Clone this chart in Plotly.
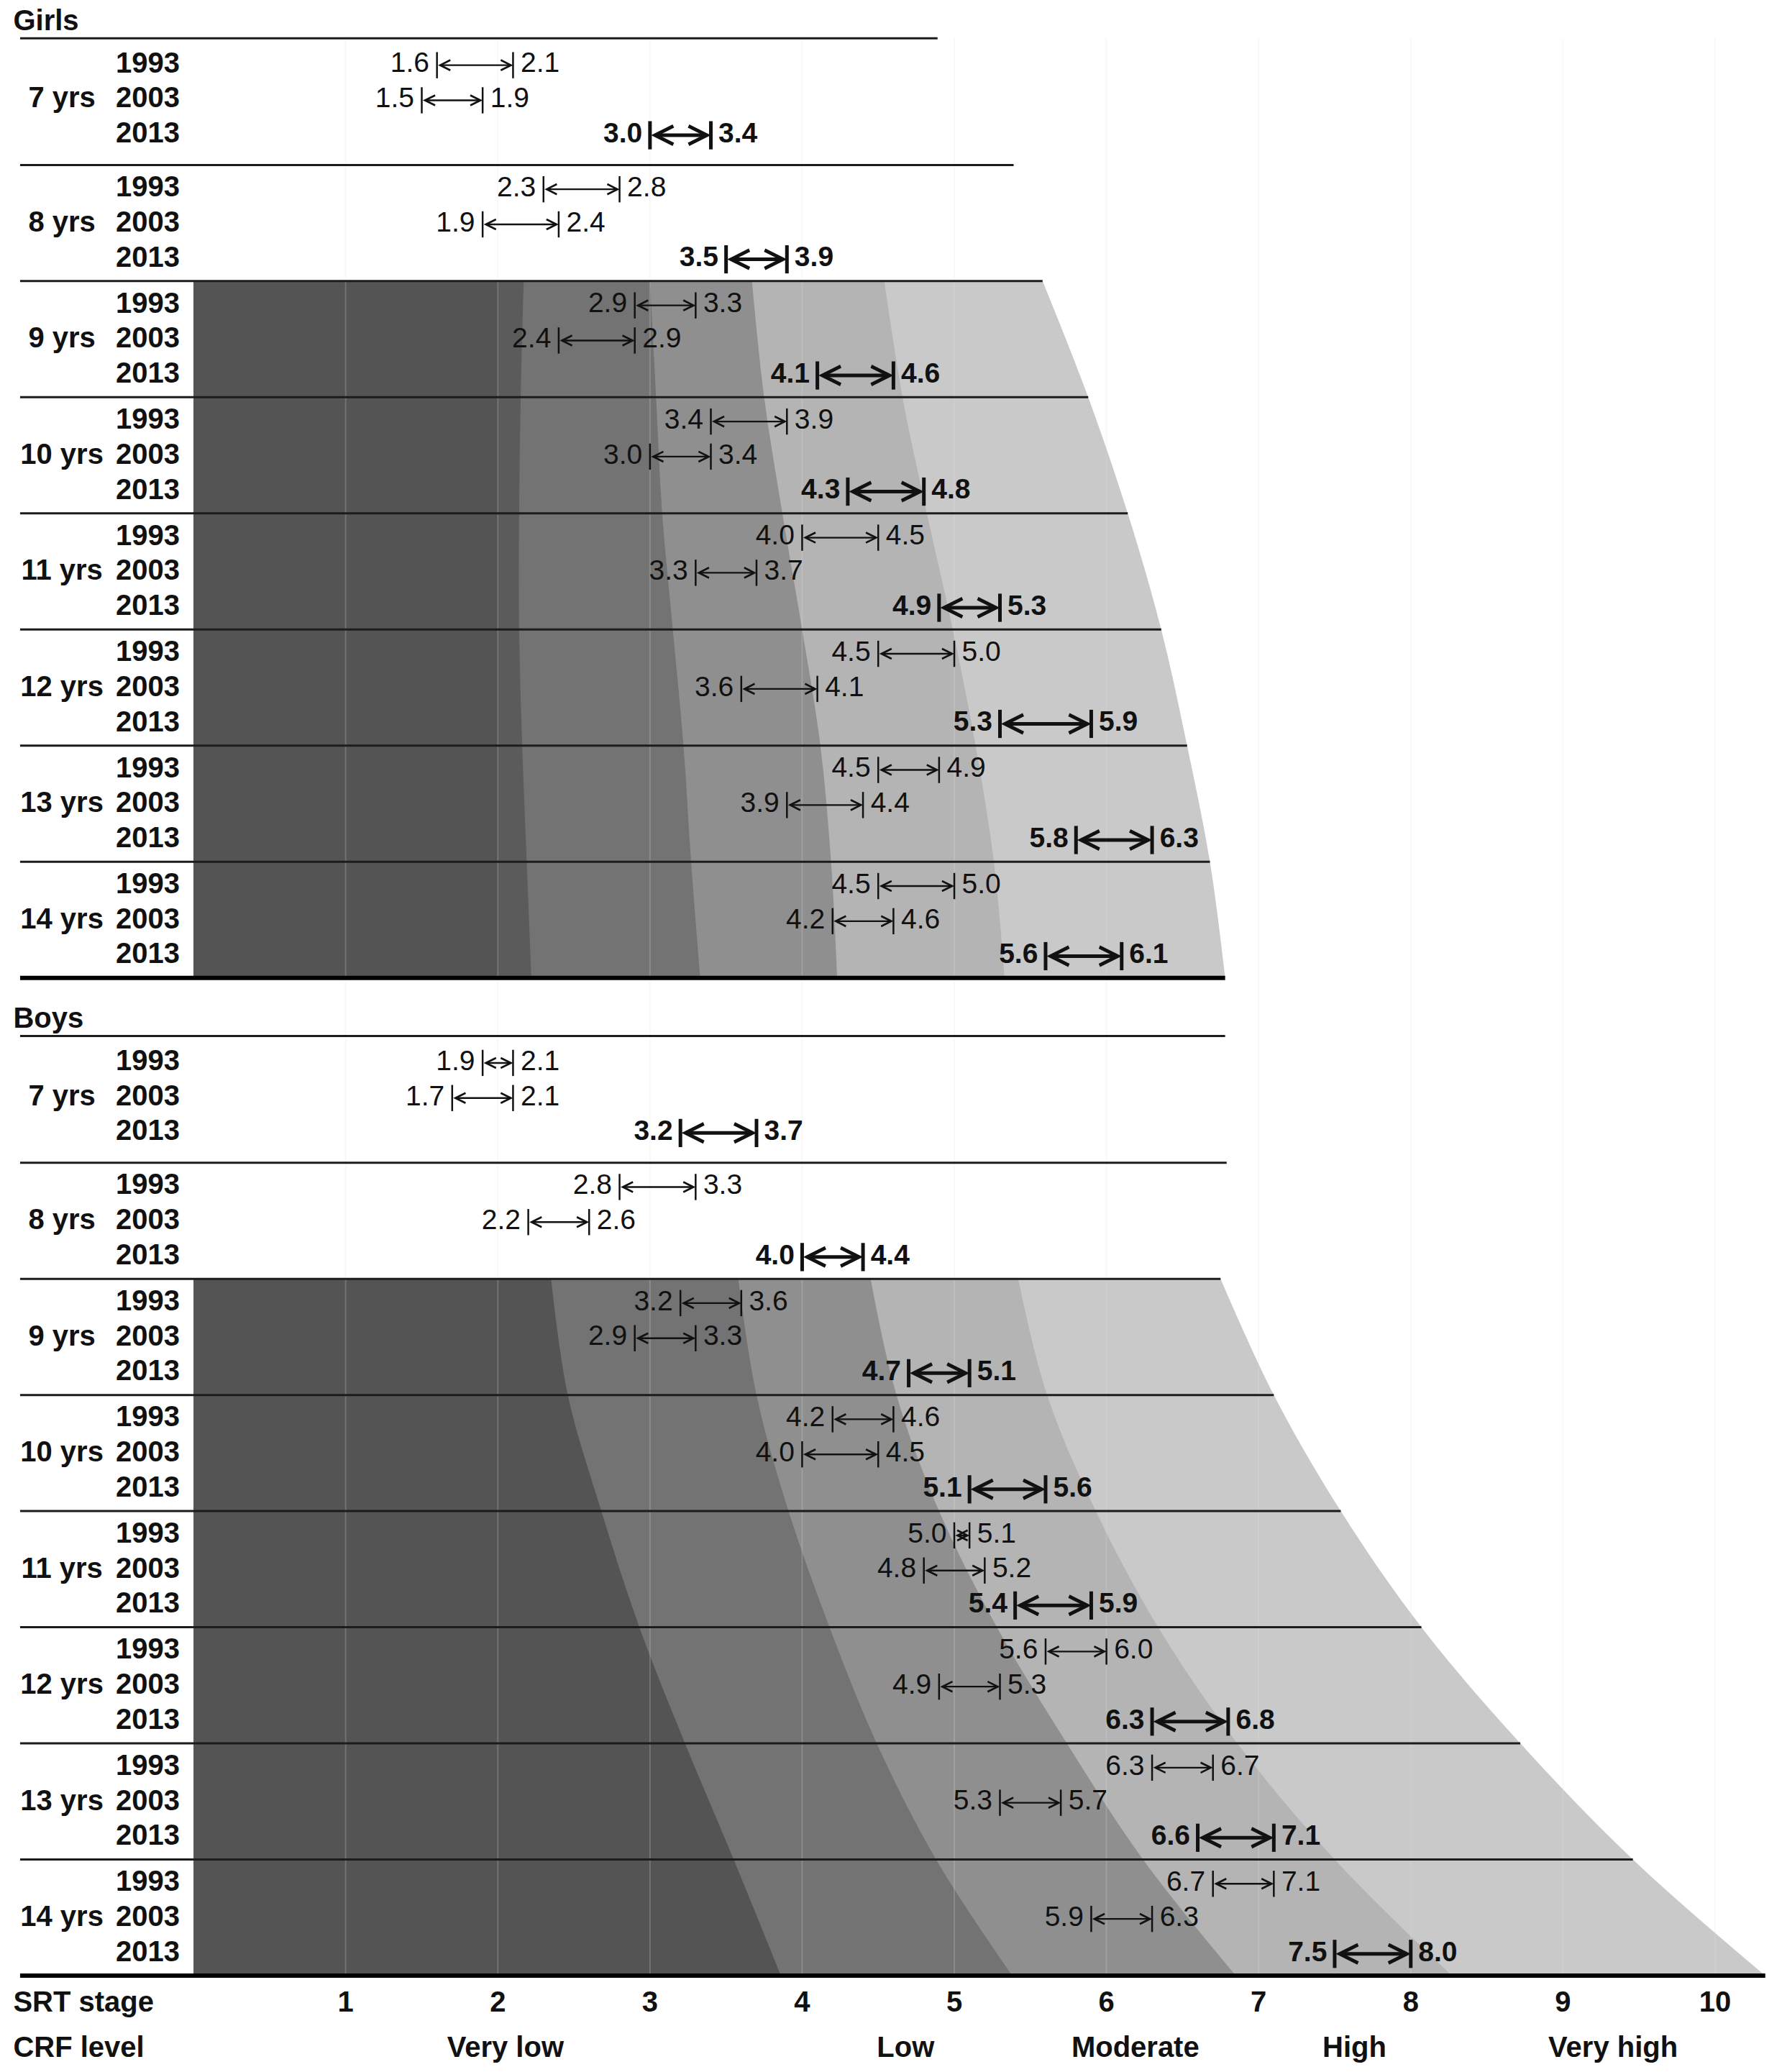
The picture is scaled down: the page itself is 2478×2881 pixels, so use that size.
import plotly.graph_objects as go

# ---------------- data (SRT stage) ----------------
ages = ["7 yrs", "8 yrs", "9 yrs", "10 yrs", "11 yrs", "12 yrs", "13 yrs", "14 yrs"]
years = ["1993", "2003", "2013"]

girls_low_1993 = [1.6, 2.3, 2.9, 3.4, 4.0, 4.5, 4.5, 4.5]
girls_high_1993 = [2.1, 2.8, 3.3, 3.9, 4.5, 5.0, 4.9, 5.0]
girls_low_2003 = [1.5, 1.9, 2.4, 3.0, 3.3, 3.6, 3.9, 4.2]
girls_high_2003 = [1.9, 2.4, 2.9, 3.4, 3.7, 4.1, 4.4, 4.6]
girls_low_2013 = [3.0, 3.5, 4.1, 4.3, 4.9, 5.3, 5.8, 5.6]
girls_high_2013 = [3.4, 3.9, 4.6, 4.8, 5.3, 5.9, 6.3, 6.1]

boys_low_1993 = [1.9, 2.8, 3.2, 4.2, 5.0, 5.6, 6.3, 6.7]
boys_high_1993 = [2.1, 3.3, 3.6, 4.6, 5.1, 6.0, 6.7, 7.1]
boys_low_2003 = [1.7, 2.2, 2.9, 4.0, 4.8, 4.9, 5.3, 5.9]
boys_high_2003 = [2.1, 2.6, 3.3, 4.5, 5.2, 5.3, 5.7, 6.3]
boys_low_2013 = [3.2, 4.0, 4.7, 5.1, 5.4, 6.3, 6.6, 7.5]
boys_high_2013 = [3.7, 4.4, 5.1, 5.6, 5.9, 6.8, 7.1, 8.0]

# upper SRT stage of each CRF level, at the rules bounding 9 yrs .. 14 yrs
crf_levels = ["Very low", "Low", "Moderate", "High", "Very high"]
girls_vlow_core = [2.00, 2.00, 2.00, 2.00, 2.00, 2.00, 2.00]
girls_vlow_upper = [2.17, 2.15, 2.14, 2.14, 2.16, 2.19, 2.22]
girls_low_upper = [3.00, 3.04, 3.08, 3.15, 3.22, 3.27, 3.33]
girls_mod_upper = [3.67, 3.75, 3.87, 4.00, 4.12, 4.19, 4.23]
girls_high_upper = [4.54, 4.66, 4.82, 4.99, 5.14, 5.26, 5.33]
girls_vhigh_upper = [5.58, 5.88, 6.14, 6.36, 6.53, 6.68, 6.78]

boys_vlow_upper = [2.35, 2.46, 2.68, 2.93, 3.23, 3.55, 3.86]
boys_low_upper = [3.58, 3.70, 3.91, 4.18, 4.49, 4.88, 5.38]
boys_mod_upper = [4.45, 4.62, 4.90, 5.28, 5.74, 6.24, 6.85]
boys_high_upper = [5.42, 5.61, 5.93, 6.34, 6.86, 7.50, 8.27]
boys_vhigh_upper = [6.75, 7.10, 7.54, 8.07, 8.72, 9.46, 10.33]

srt_stages = [1, 2, 3, 4, 5, 6, 7, 8, 9, 10]
crf_label_x = [2.05, 4.68, 6.19, 7.63, 9.33]

# ---------------- layout (y in reference pixel rows, downward) ----------------
FIG_W, FIG_H = 2478, 2881
Y_BOTTOM = 1570
X_RANGE = [-1.272, 10.44]
BLOCK_TOP = {"Girls": 29, "Boys": 785}
FIRST_PAD = 8
GROUP_H = 88
ROW_OFF = [18.4, 45, 71.5]
RULE_X0 = -1.14
HEAD_X = -1.185
SHADE_FROM = 2          # shading starts at the 9 yrs group
TOP_RULE_END = {"Girls": [4.89, 5.39], "Boys": [6.78, 6.79]}
FONT = "Liberation Sans, Arial, sans-serif"
INK = "#111111"
BAND_COLORS = ["#5b5b5b", "#737373", "#8f8f8f", "#b4b4b4", "#c9c9c9"]
CORE_COLOR = "#545454"
GAP = 0.05

blocks = {
    "Girls": {
        "low": [girls_low_1993, girls_low_2003, girls_low_2013],
        "high": [girls_high_1993, girls_high_2003, girls_high_2013],
        "upper": [girls_vlow_upper, girls_low_upper, girls_mod_upper,
                  girls_high_upper, girls_vhigh_upper],
        "core": girls_vlow_core,
    },
    "Boys": {
        "low": [boys_low_1993, boys_low_2003, boys_low_2013],
        "high": [boys_high_1993, boys_high_2003, boys_high_2013],
        "upper": [boys_vlow_upper, boys_low_upper, boys_mod_upper,
                  boys_high_upper, boys_vhigh_upper],
        "core": None,
    },
}


def group_top(block, g):
    return BLOCK_TOP[block] + (FIRST_PAD if g else 0) + g * GROUP_H


def row_y(block, g, r):
    return group_top(block, g) + ROW_OFF[r] + (2 if g == 0 else 0)


fig = go.Figure()

# shaded CRF bands, lightest (widest) first, each filled back to stage 0
for block, d in blocks.items():
    ys = [group_top(block, g) for g in range(SHADE_FROM, len(ages) + 1)]
    colors = list(BAND_COLORS)
    if d["core"] is None:
        colors[0] = CORE_COLOR
    layers = list(zip(d["upper"], colors))
    if d["core"] is not None:
        layers = [(d["core"], CORE_COLOR)] + layers
    for upper, color in reversed(layers):
        fig.add_trace(go.Scatter(
            x=upper, y=ys, mode="lines",
            line=dict(width=0, color=color, shape="spline", smoothing=1.0),
            fill="tozerox", fillcolor=color, hoverinfo="skip"))

# faint stage grid
gx, gy = [], []
for s in srt_stages:
    gx += [s, s, None]
    gy += [BLOCK_TOP["Girls"], group_top("Boys", len(ages)), None]
fig.add_trace(go.Scatter(x=gx, y=gy, mode="lines",
                         line=dict(color="rgba(225,225,225,0.22)", width=2), hoverinfo="skip"))

# horizontal rules between age groups
for block, d in blocks.items():
    ends = TOP_RULE_END[block] + d["upper"][-1]
    rx, ry = [], []
    for g, end in enumerate(ends[:-1]):
        y = group_top(block, g)
        rx += [RULE_X0, end, None]
        ry += [y, y, None]
    fig.add_trace(go.Scatter(x=rx, y=ry, mode="lines", line=dict(color="#1c1c1c", width=3),
                             hoverinfo="skip"))
    yb = group_top(block, len(ages))
    fig.add_trace(go.Scatter(x=[RULE_X0, ends[-1]], y=[yb, yb], mode="lines",
                             line=dict(color="#000000", width=6), hoverinfo="skip"))

# confidence ranges: |<-->| with the two limits written beside the bars
for block, d in blocks.items():
    for r, year in enumerate(years):
        bold = year == "2013"
        lows, highs = d["low"][r], d["high"][r]
        ys = [row_y(block, g, r) for g in range(len(ages))]
        w = 5 if bold else 2.4
        for lo, hi, y in zip(lows, highs, ys):
            fig.add_annotation(x=hi, y=y, ax=lo, ay=y, xref="x", yref="y", axref="x", ayref="y",
                               text="", showarrow=True, arrowside="end+start",
                               arrowhead=5, startarrowhead=5,
                               arrowsize=1.0 if bold else 1.15,
                               startarrowsize=1.0 if bold else 1.15,
                               arrowwidth=w, arrowcolor=INK)
        fig.add_trace(go.Scatter(
            x=lows + highs, y=ys + ys, mode="markers", hoverinfo="skip",
            marker=dict(symbol="line-ns", size=28 if bold else 26,
                        line=dict(width=5 if bold else 2.5, color=INK))))
        tf = dict(family=FONT, size=39, color=INK, weight="bold" if bold else "normal")
        fig.add_trace(go.Scatter(
            x=[v - GAP for v in lows], y=ys, mode="text", text=[f"{v:.1f}" for v in lows],
            textposition="middle left", textfont=tf, hoverinfo="skip"))
        fig.add_trace(go.Scatter(
            x=[v + GAP for v in highs], y=ys, mode="text", text=[f"{v:.1f}" for v in highs],
            textposition="middle right", textfont=tf, hoverinfo="skip"))

# row labels
bold_font = dict(family=FONT, size=40, color=INK, weight="bold")
for block in blocks:
    yx, yy, yt = [], [], []
    for g in range(len(ages)):
        for r, year in enumerate(years):
            yx.append(-0.09)
            yy.append(row_y(block, g, r))
            yt.append(year)
    fig.add_trace(go.Scatter(x=yx, y=yy, mode="text", text=yt, textposition="middle left",
                             textfont=bold_font, hoverinfo="skip"))
    fig.add_trace(go.Scatter(
        x=[-0.865] * len(ages), y=[row_y(block, g, 1) for g in range(len(ages))],
        mode="text", text=ages, textposition="middle center", textfont=bold_font,
        hoverinfo="skip"))
    fig.add_trace(go.Scatter(x=[HEAD_X], y=[BLOCK_TOP[block] - 11.6], mode="text", text=[block],
                             textposition="middle right", textfont=bold_font, hoverinfo="skip"))

# bottom scales
y_axis_row = group_top("Boys", len(ages)) + 22
y_crf_row = group_top("Boys", len(ages)) + 56
fig.add_trace(go.Scatter(x=srt_stages, y=[y_axis_row] * len(srt_stages), mode="text",
                         text=[str(s) for s in srt_stages], textposition="middle center",
                         textfont=bold_font, hoverinfo="skip"))
fig.add_trace(go.Scatter(x=crf_label_x, y=[y_crf_row] * len(crf_levels), mode="text",
                         text=crf_levels, textposition="middle center",
                         textfont=bold_font, hoverinfo="skip"))
fig.add_trace(go.Scatter(x=[HEAD_X, HEAD_X], y=[y_axis_row, y_crf_row], mode="text",
                         text=["SRT stage", "CRF level"], textposition="middle right",
                         textfont=bold_font, hoverinfo="skip"))

fig.update_layout(
    width=FIG_W, height=FIG_H, margin=dict(l=0, r=0, t=0, b=0),
    paper_bgcolor="white", plot_bgcolor="white", showlegend=False,
    xaxis=dict(range=X_RANGE, visible=False, fixedrange=True),
    yaxis=dict(range=[Y_BOTTOM, 0], visible=False, fixedrange=True),
)

fig.write_html("out.html", config={"displayModeBar": False},
               post_script="document.body.style.margin = '0px';")
